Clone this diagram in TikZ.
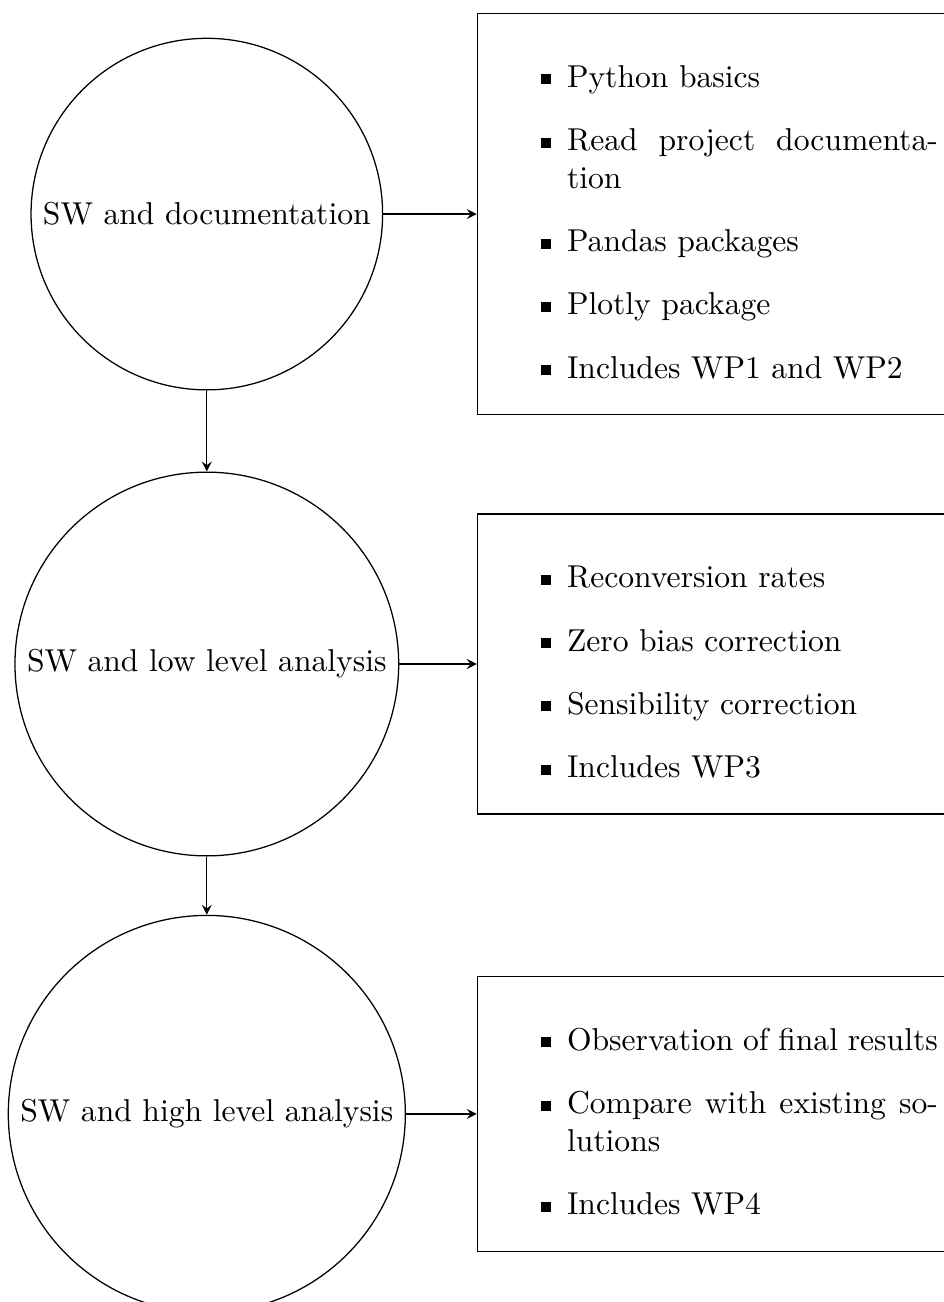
\documentclass[tikz,border=0pt]{standalone}
\usepackage{amsmath, amssymb}
\usepackage{tikz}
\renewcommand{\labelitemi}{\rule[0.9pt]{3.2pt}{3.2pt}}

\begin{document}
\begin{tikzpicture}[
                node distance = 50mm,
                >=stealth,
                C/.style = {circle, draw},
                B/.style = {rectangle, draw, text width=5cm, align=justify}
                    ]
                \useasboundingbox (-65.4pt,67.7pt) rectangle (233pt,-344pt);
                \begin{scope}[nodes=C]
                \node (1) {SW and documentation};
                \node (2) [below of=1] {SW and low level analysis};
                \node (3) [below of=2] {SW and high level analysis};
                \end{scope}
                \begin{scope}[nodes=B, node distance=30mm]
                \node (1b) [right of=1, anchor=west] {\begin{itemize}
                    \item Python basics
                    \item Read project documentation
                    \item Pandas packages
                    \item Plotly package
                    \item Includes WP1 and WP2
                \end{itemize}\hrule height 0pt};
                \node (2b) [right of=2, anchor=west] {\begin{itemize}
                    \item Reconversion rates
                    \item Zero bias correction
                    \item Sensibility correction
                    \item Includes WP3
                \end{itemize}\hrule height 0pt};
                \node (3b) [right of=3, anchor=west] {\begin{itemize}
                    \item Observation of final results
                    \item Compare with existing solutions
                    \item Includes WP4
                \end{itemize}\hrule height 0pt};
                \end{scope}
                \draw[->] (1) to (2);
                \draw[->] (2) to (3);
                \draw[->] (1) to (1b);
                \draw[->] (2) to (2b);
                \draw[->] (3) to (3b);
            \end{tikzpicture}
\end{document}
